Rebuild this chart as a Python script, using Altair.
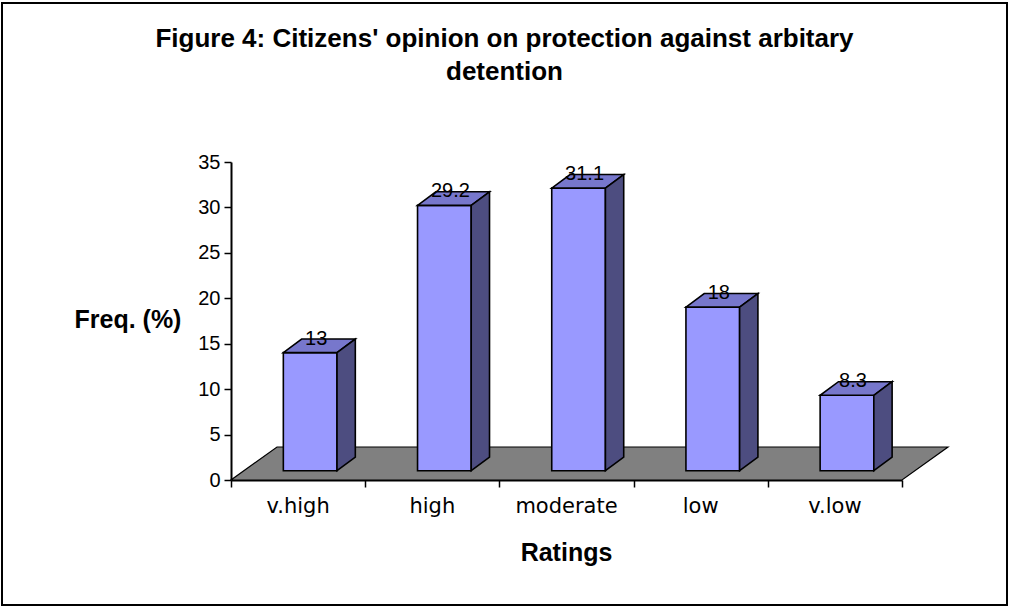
import altair as alt
import pandas as pd

# ---- data -------------------------------------------------------------
categories = ["v.high", "high", "moderate", "low", "v.low"]
freq = [13, 29.2, 31.1, 18, 8.3]
y_ticks = [0, 5, 10, 15, 20, 25, 30, 35]

title_lines = [
    "Figure 4: Citizens' opinion on protection against arbitary",
    "detention",
]

# ---- geometry / style ---------------------------------------------------
W, H = 671, 318                 # plot area in pixels
Y_MAX = 35
N = len(categories)
PX_X = W / N                    # pixels per x unit (one category)
PX_Y = H / Y_MAX                # pixels per y unit


def ux(px):
    return px / PX_X


def uy(px):
    return px / PX_Y


FLOOR_DX, FLOOR_DY = ux(46), uy(33)     # depth of the floor
BAR_X0, BAR_W = 0.39, 0.40              # front face position inside a category
BAR_BASE = uy(9.3)                      # bars stand part-way back on the floor
BAR_DX, BAR_DY = ux(18.3), uy(13.6)     # depth of each column

FRONT = "#9999FF"
TOP = "#7777CC"
SIDE = "#4D4D80"
FLOOR = "#808080"
FONT = "Liberation Sans"
CAT_FONT = "DejaVu Sans"

# ---- tables built from the data -----------------------------------------
floor_df = pd.DataFrame({
    "id": ["floor"] * 4,
    "x": [0, FLOOR_DX, N, N + FLOOR_DX],
    "y": [0, 0, 0, FLOOR_DY],
    "y2": [0, FLOOR_DY, FLOOR_DY, FLOOR_DY],
})

front_rows, top_rows, side_rows, label_rows, cat_rows = [], [], [], [], []
for i, (cat, v) in enumerate(zip(categories, freq)):
    x0 = i + BAR_X0
    x1 = x0 + BAR_W
    top = BAR_BASE + v
    front_rows.append({"id": cat, "x": x0, "x2": x1, "y": BAR_BASE, "y2": top})
    top_rows += [
        {"id": cat, "x": x0, "y": top, "y2": top},
        {"id": cat, "x": x0 + BAR_DX, "y": top, "y2": top + BAR_DY},
        {"id": cat, "x": x1, "y": top, "y2": top + BAR_DY},
        {"id": cat, "x": x1 + BAR_DX, "y": top + BAR_DY, "y2": top + BAR_DY},
    ]
    side_rows += [
        {"id": cat, "x": x1, "y": BAR_BASE, "y2": top},
        {"id": cat, "x": x1 + BAR_DX, "y": BAR_BASE + BAR_DY, "y2": top + BAR_DY},
    ]
    label_rows.append({"id": cat, "x": (x0 + x1) / 2, "y": top, "label": f"{v:g}"})
    cat_rows.append({"x": i + 0.5, "y": 0, "label": cat})

front_df = pd.DataFrame(front_rows)
top_df = pd.DataFrame(top_rows)
side_df = pd.DataFrame(side_rows)
label_df = pd.DataFrame(label_rows)
cat_df = pd.DataFrame(cat_rows)

# ---- shared encodings ---------------------------------------------------
x_enc = alt.X(
    "x:Q",
    scale=alt.Scale(domain=[0, N], nice=False, zero=False),
    axis=alt.Axis(
        values=list(range(N + 1)),
        labels=False,
        tickSize=7,
        tickWidth=1.5,
        tickColor="black",
        domainColor="black",
        domainWidth=2,
        grid=False,
        title="Ratings",
        titleFontSize=25,
        titleFontWeight="bold",
        titleBaseline="alphabetic",
        titleY=80,
        titleX=335,
    ),
)

y_enc = alt.Y(
    "y:Q",
    stack=None,
    scale=alt.Scale(domain=[0, Y_MAX], nice=False),
    axis=alt.Axis(
        values=y_ticks,
        labelFlush=False,
        labelOverlap=False,
        labelFontSize=20,
        labelPadding=4,
        tickSize=7,
        tickWidth=1.5,
        tickColor="black",
        domainColor="black",
        domainWidth=2,
        grid=False,
        title="Freq. (%)",
        titleAngle=0,
        titleFontSize=25,
        titleFontWeight="bold",
        titleAlign="left",
        titleBaseline="alphabetic",
        titleX=-157,
        titleY=165,
    ),
)

# ---- layers ---------------------------------------------------------------
floor = alt.Chart(floor_df).mark_area(
    color=FLOOR, stroke="black", strokeWidth=1.2, interpolate="linear"
).encode(x=x_enc, y=y_enc, y2="y2:Q", detail="id:N")

front = alt.Chart(front_df).mark_rect(
    color=FRONT, stroke="black", strokeWidth=1.6
).encode(x=x_enc, x2="x2:Q", y=y_enc, y2="y2:Q")

tops = alt.Chart(top_df).mark_area(
    color=TOP, stroke="black", strokeWidth=1.6, interpolate="linear"
).encode(x=x_enc, y=y_enc, y2="y2:Q", detail="id:N")

sides = alt.Chart(side_df).mark_area(
    color=SIDE, stroke="black", strokeWidth=1.6, interpolate="linear"
).encode(x=x_enc, y=y_enc, y2="y2:Q", detail="id:N")

labels = alt.Chart(label_df).mark_text(
    fontSize=20, color="black", baseline="alphabetic", dx=6, dy=-8
).encode(x=x_enc, y=y_enc, text="label:N")

# category names under the front edge of the floor
cat_labels = alt.Chart(cat_df).mark_text(
    font=CAT_FONT, fontSize=21, color="black", baseline="top", dy=16
).encode(x=x_enc, y=y_enc, text="label:N")

# outer chart border
frame = alt.Chart(pd.DataFrame({"k": [0]})).mark_rect(
    fill=None, stroke="black", strokeWidth=2
).encode(
    x=alt.value(-229), x2=alt.value(1007 - 231),
    y=alt.value(3 - 162), y2=alt.value(605 - 162),
)

chart = alt.layer(floor, front, tops, sides, labels, cat_labels, frame).properties(
    width=W,
    height=H,
    autosize="none",
    padding={"left": 231, "top": 162, "right": 1010 - 231 - W, "bottom": 607 - 162 - H},
    title=alt.TitleParams(
        text=title_lines,
        font=FONT,
        fontSize=26,
        fontWeight="bold",
        anchor="middle",
        frame="group",
        dx=-62,
        offset=-83,
        lineHeight=33,
        color="black",
    ),
).configure(
    font=FONT,
    background="white",
).configure_view(
    stroke=None,
)

chart.save("out.html", embed_options={"renderer": "svg", "actions": False})
